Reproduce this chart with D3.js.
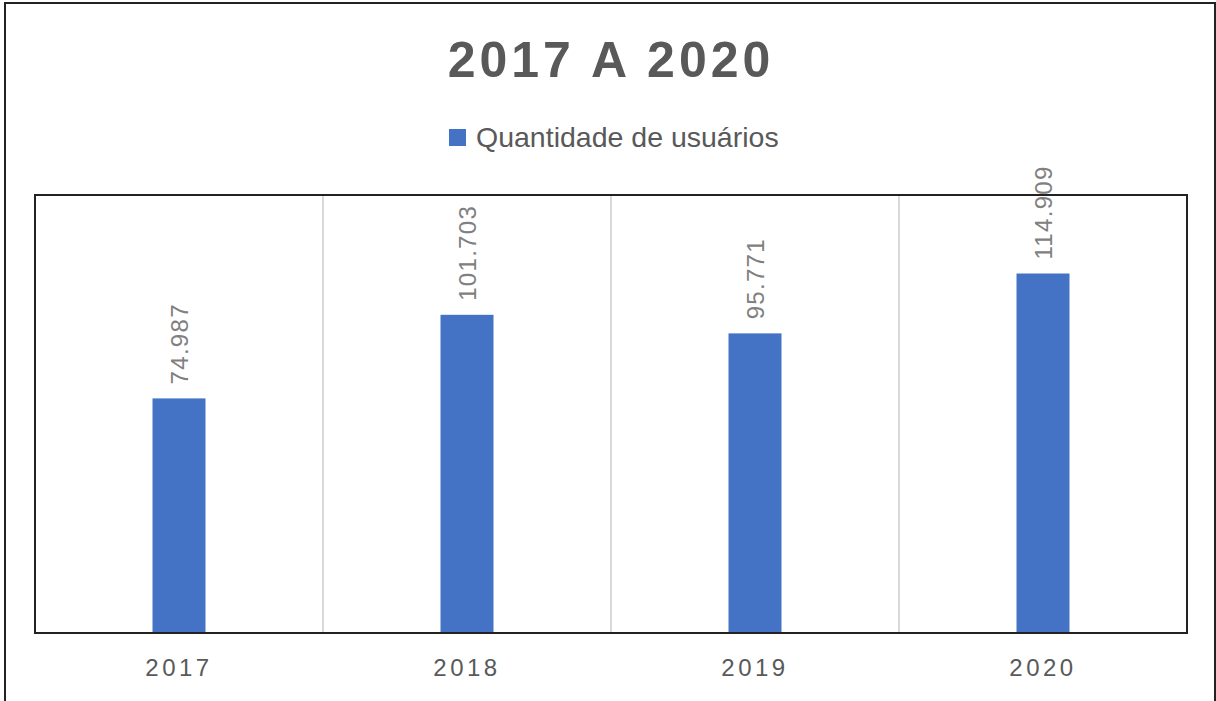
<!DOCTYPE html>
<html lang="pt">
<head>
<meta charset="UTF-8">
<title>2017 A 2020</title>
<script src="https://d3js.org/d3.v7.min.js"></script>
<style>
  body { margin: 0; background: #fff; }
  svg { display: block; }
  text { font-family: "Liberation Sans", Arial, sans-serif; }
</style>
</head>
<body>
<svg width="1216" height="701"></svg>
<script>
const years = ["2017", "2018", "2019", "2020"];
const usuarios = [74.987, 101.703, 95.771, 114.909];
const seriesName = "Quantidade de usuários";
const chartTitle = "2017 A 2020";

const svg = d3.select("svg");
const margin = {top: 195, right: 29, bottom: 68, left: 35};
const width = 1216 - margin.left - margin.right,
      height = 701 - margin.top - margin.bottom;

// outer frame (bottom edge is cut off in the picture)
svg.append("path")
    .attr("d", "M5,701 V3 H1215 V701")
    .attr("fill", "none")
    .attr("stroke", "#222")
    .attr("stroke-width", 2);

svg.append("text")
    .attr("x", 611).attr("y", 77)
    .attr("text-anchor", "middle")
    .attr("font-size", 50)
    .attr("font-weight", "bold")
    .attr("letter-spacing", 4)
    .attr("fill", "#595959")
    .text(chartTitle);

// legend
const legend = svg.append("g").attr("transform", "translate(449,129)");
legend.append("rect").attr("width", 17).attr("height", 17).attr("fill", "#4472c4");
legend.append("text")
    .attr("x", 27).attr("y", 18)
    .attr("font-size", 28.5)
    .attr("fill", "#595959")
    .text(seriesName);

const g = svg.append("g").attr("transform", `translate(${margin.left},${margin.top})`);

const x = d3.scaleBand().domain(years).range([0, width]).paddingInner(0).paddingOuter(0);
const y = d3.scaleLinear().domain([0, 140]).range([height, 0]);

// vertical gridlines between categories
g.selectAll(".grid")
    .data(years.slice(1))
    .join("line")
    .attr("x1", d => x(d)).attr("x2", d => x(d))
    .attr("y1", 0).attr("y2", height)
    .attr("stroke", "#d9d9d9")
    .attr("stroke-width", 2);

const barW = x.bandwidth() * 0.184;
g.selectAll(".bar")
    .data(years)
    .join("rect")
    .attr("x", d => x(d) + x.bandwidth() / 2 - barW / 2)
    .attr("y", (d, i) => y(usuarios[i]))
    .attr("width", barW)
    .attr("height", (d, i) => height - y(usuarios[i]))
    .attr("fill", "#4472c4");

g.selectAll(".lbl")
    .data(years)
    .join("text")
    .attr("transform", (d, i) => `translate(${x(d) + x.bandwidth() / 2 + 9},${y(usuarios[i]) - 14}) rotate(-90)`)
    .attr("font-size", 24)
    .attr("letter-spacing", 1.3)
    .attr("fill", "#808080")
    .text((d, i) => usuarios[i].toFixed(3));

// plot frame
g.append("rect")
    .attr("width", width).attr("height", height)
    .attr("fill", "none")
    .attr("stroke", "#222")
    .attr("stroke-width", 2);

const xAxis = g.append("g")
    .attr("transform", `translate(0,${height})`)
    .call(d3.axisBottom(x).tickSize(0).tickPadding(26));
xAxis.select(".domain").remove();
xAxis.selectAll("text")
    .attr("font-size", 24)
    .attr("letter-spacing", 3.5)
    .attr("fill", "#595959")
    .attr("font-family", "Liberation Sans, Arial, sans-serif");
</script>
</body>
</html>
